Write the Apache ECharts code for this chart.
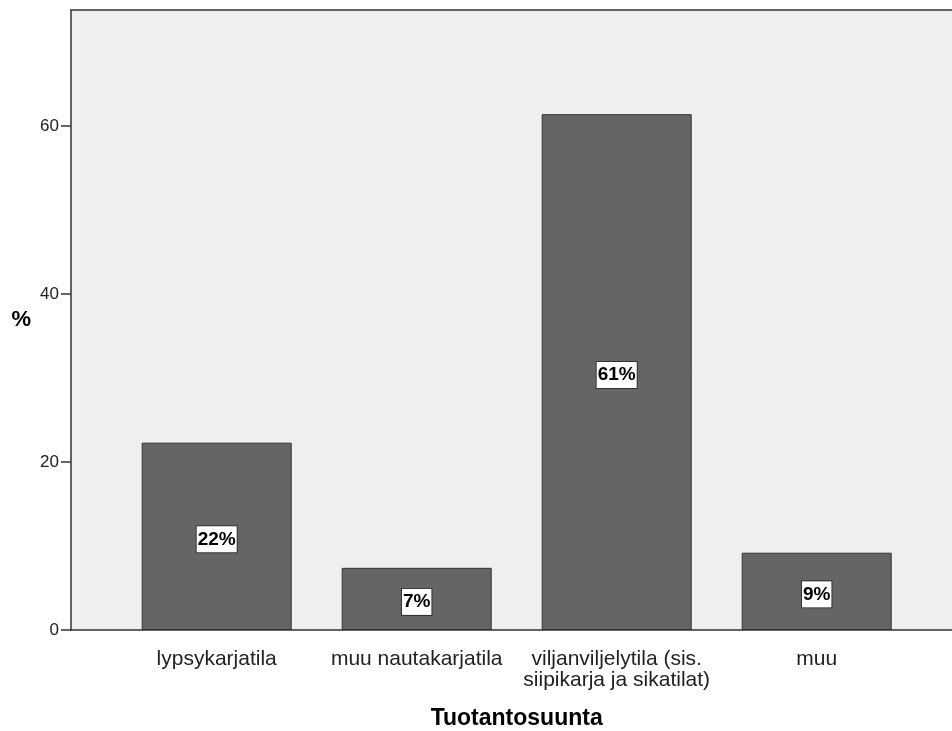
<!DOCTYPE html>
<html>
<head>
<meta charset="utf-8">
<script src="https://cdn.jsdelivr.net/npm/echarts@6/dist/echarts.min.js"></script>
<style>
  html, body { margin: 0; padding: 0; background: #ffffff; }
  #chart { width: 952px; height: 731px; }
</style>
</head>
<body>
<div id="chart"></div>
<script>
// Tuotantosuunta, osuudet prosentteina
var categories = ['lypsykarjatila', 'muu nautakarjatila', 'viljanviljelytila (sis.\nsiipikarja ja sikatilat)', 'muu']
var percents = [22.3, 7.4, 61.4, 9.2]
var yTicks = [0, 20, 40, 60]

var font = '"Liberation Sans", Arial, sans-serif'
var frameLine = { show: true, lineStyle: { color: '#333', width: 1.5 } }

var myChart = echarts.init(document.getElementById('chart'))
myChart.setOption({
  animation: false,
  grid: [{
    // harmaa tausta, oikealla ei reunaviivaa
    left: 71,
    top: 10,
    right: 0,
    bottom: 101,
    outerBoundsMode: 'none',
    show: true,
    backgroundColor: '#efefef',
    borderWidth: 0
  }, {
    // pylväät
    left: 116.7,
    width: 800,
    top: 10,
    bottom: 101,
    outerBoundsMode: 'none'
  }],
  xAxis: [{
    gridIndex: 0,
    type: 'value',
    position: 'bottom',
    axisLine: frameLine,
    axisTick: { show: false },
    axisLabel: { show: false },
    splitLine: { show: false }
  }, {
    gridIndex: 0,
    type: 'value',
    position: 'top',
    axisLine: frameLine,
    axisTick: { show: false },
    axisLabel: { show: false },
    splitLine: { show: false }
  }, {
    gridIndex: 1,
    type: 'category',
    data: categories,
    name: 'Tuotantosuunta',
    nameLocation: 'middle',
    nameGap: 77,
    nameTextStyle: { fontFamily: font, fontSize: 23, fontWeight: 'bold', color: '#000' },
    axisLine: { show: false },
    axisTick: { alignWithLabel: true, length: 12, lineStyle: { color: '#333', width: 1.5 } },
    axisLabel: {
      interval: 0,
      margin: 19,
      fontFamily: font,
      fontSize: 21,
      lineHeight: 21,
      color: '#222'
    }
  }],
  yAxis: [{
    gridIndex: 0,
    type: 'value',
    show: false
  }, {
    gridIndex: 1,
    type: 'value',
    min: 0,
    max: 73.8,
    interval: 20,
    offset: 45.7,
    name: '%',
    nameLocation: 'middle',
    nameRotate: 0,
    nameGap: 40,
    nameTextStyle: { fontFamily: font, fontSize: 22, fontWeight: 'bold', color: '#000' },
    axisLine: frameLine,
    axisTick: { show: true, length: 10, lineStyle: { color: '#333', width: 1.5 } },
    splitLine: { show: false },
    axisLabel: {
      margin: 12,
      fontFamily: font,
      fontSize: 17,
      color: '#222',
      showMaxLabel: false,
      formatter: function (v) {
        return yTicks.indexOf(v) >= 0 ? String(v) : ''
      }
    }
  }],
  series: [{
    type: 'bar',
    xAxisIndex: 2,
    yAxisIndex: 1,
    barWidth: 150,
    data: percents,
    itemStyle: {
      color: '#656565',
      borderColor: '#333',
      borderWidth: 1
    },
    label: {
      show: true,
      position: 'inside',
      offset: [0, 3],
      formatter: function (p) {
        return Math.round(p.value) + '%'
      },
      fontFamily: font,
      fontSize: 19,
      fontWeight: 'bold',
      color: '#000',
      backgroundColor: '#fff',
      borderColor: '#333',
      borderWidth: 1,
      padding: [4, 1, 3, 1]
    }
  }]
})
</script>
</body>
</html>
